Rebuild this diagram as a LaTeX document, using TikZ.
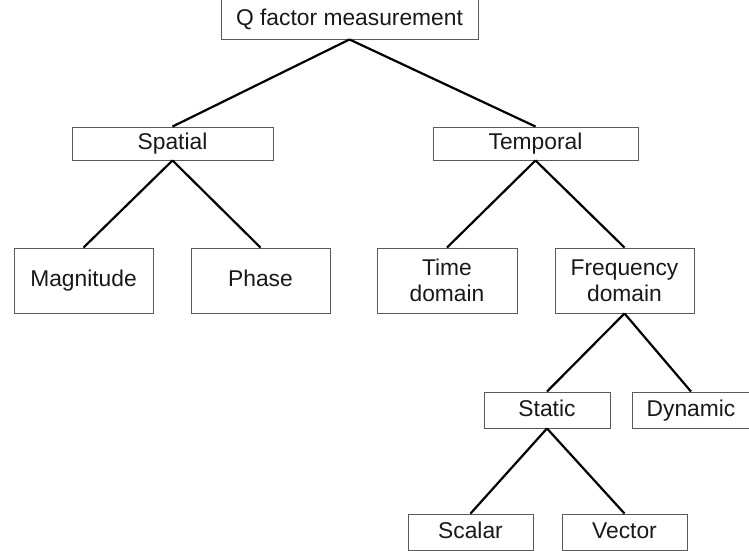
\documentclass[tikz,border=0pt]{standalone}
\usepackage{fontspec}
\setmainfont{Liberation Sans}
\begin{document}
\begin{tikzpicture}[x=1pt,y=-1pt]
        \tikzstyle{class}=[draw=black!65,line width=0.9pt,fill=white,inner sep=0pt,align=center,text=black!90,font=\fontsize{22.8}{26}\selectfont]
        \tikzstyle{single}=[class,text height=16.5pt,text depth=4.5pt]
        \tikzstyle{edge}=[draw,line width=2.2pt,black]
        \useasboundingbox (0,0) rectangle (749,550);
        % levels of the tree
        \node [single,minimum width=257,minimum height=40] (qfm) at (349.5,19) {Q factor measurement};
        \node [single,minimum width=201,minimum height=33] (spatial) at (172.5,143.5) {Spatial};
        \node [single,minimum width=205,minimum height=33] (temporal) at (535.5,143.5) {Temporal};
        \node [single,minimum width=139,minimum height=65] (magnitude) at (83.5,280.5) {Magnitude};
        \node [single,minimum width=139,minimum height=65] (phase) at (260.5,280.5) {Phase};
        \node [class,minimum width=140,minimum height=65] (time) at (447,280.5) {Time\\domain};
        \node [class,minimum width=139,minimum height=65] (freq) at (624.5,280.5) {Frequency\\domain};
        \node [single,minimum width=126,minimum height=36] (static) at (547,410) {Static};
        \node [single,minimum width=118,minimum height=36] (dynamic) at (691,410) {Dynamic};
        \node [single,minimum width=125,minimum height=36] (scalar) at (470.5,532) {Scalar};
        \node [single,minimum width=125,minimum height=36] (vector) at (624.5,532) {Vector};
        % branches
        \path[edge] (qfm.south) edge (spatial.north);
        \path[edge] (qfm.south) edge (temporal.north);
        \path[edge] (spatial.south) edge (magnitude.north);
        \path[edge] (spatial.south) edge (phase.north);
        \path[edge] (temporal.south) edge (time.north);
        \path[edge] (temporal.south) edge (freq.north);
        \path[edge] (freq.south) edge (static.north);
        \path[edge] (freq.south) edge (dynamic.north);
        \path[edge] (static.south) edge (scalar.north);
        \path[edge] (static.south) edge (vector.north);
      \end{tikzpicture}
\end{document}
